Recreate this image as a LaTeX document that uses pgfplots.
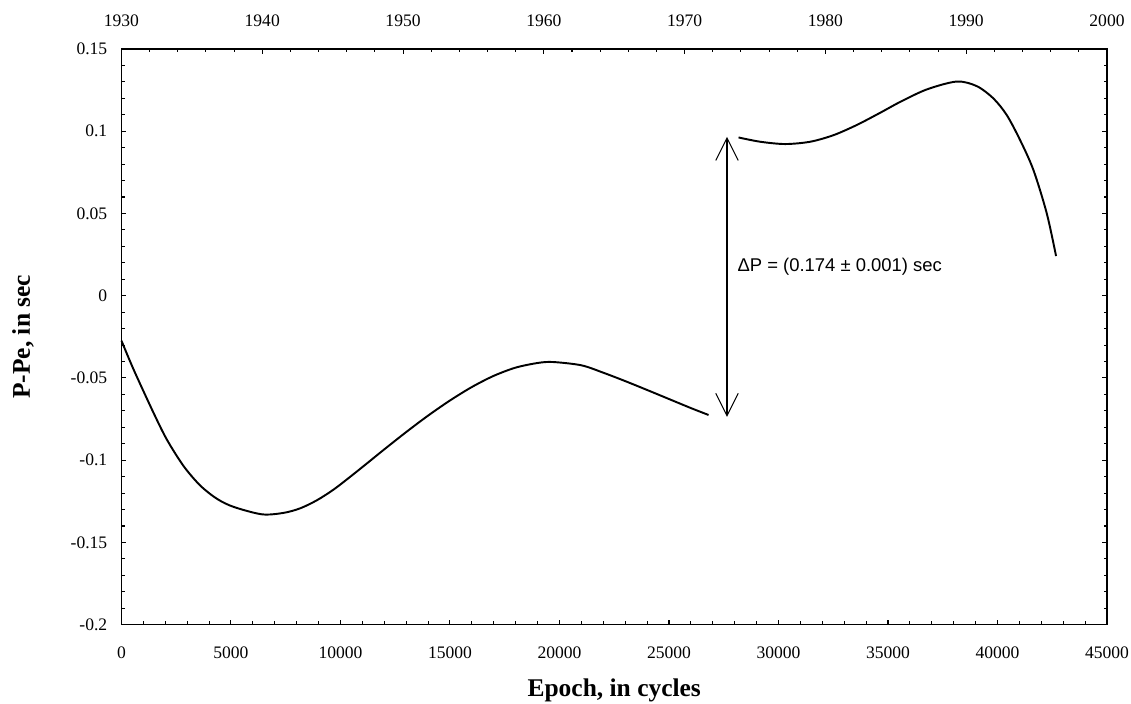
\documentclass[border=0pt]{standalone}
\usepackage{fontspec}
\setmainfont{Liberation Serif}
\newfontfamily\arial{Liberation Sans}
\usepackage{pgfplots}
\pgfplotsset{compat=1.18}
\usetikzlibrary{arrows.meta,calc}

\pgfplotsset{
  common/.style={
    width=19.72cm, height=11.52cm, scale only axis,
    xmin=0, xmax=45000, ymin=-0.2, ymax=0.15,
    tick align=inside,
    major tick length=0.1cm, minor tick length=0.065cm,
    every tick/.style={black, line width=0.6pt},
    axis line style={line width=0.75pt},
    tick label style={font=\fontsize{10}{12}\selectfont},
    /pgf/number format/assume math mode=true,
  },
}

\begin{document}
\begin{tikzpicture}
\begin{axis}[common, name=ax,
  xtick distance=5000, minor x tick num=4,
  ytick distance=0.05, minor y tick num=4,
  xtick pos=bottom, ytick pos=both,
  scaled x ticks=false, scaled y ticks=false,
  xticklabel style={anchor=base, yshift=-0.68cm},
  yticklabel style={anchor=east, xshift=-0.16cm,
    /pgf/number format/.cd, fixed, precision=2},
  xticklabel={\pgfmathprintnumber[fixed,1000 sep={}]{\tick}},
  xlabel={\textbf{Epoch, in cycles}},
  ylabel={\textbf{P-Pe, in sec}},
  label style={font=\fontsize{14.5}{17}\selectfont},
  xlabel style={at={(axis description cs:0.5,0)}, anchor=base, yshift=-1.44cm},
  ylabel style={at={(axis description cs:0,0.5)}, anchor=center, yshift=1.97cm},
  clip=false]
% cycle count before the jump
\addplot[black, line width=1.1pt, smooth, tension=0.5] coordinates {
  (0,-0.0273) (563,-0.0451) (1476,-0.0715) (2084,-0.0877) (2845,-0.1037)
  (3606,-0.1155) (4366,-0.1235) (5127,-0.1284) (6420,-0.1329) (7409,-0.1320)
  (8170,-0.1292) (8930,-0.1243) (9691,-0.1178) (10452,-0.1100) (11213,-0.1019)
  (11973,-0.0937) (13000,-0.0829) (14000,-0.0729) (15000,-0.0637)
  (16000,-0.0555) (17000,-0.0487) (18000,-0.0437) (19000,-0.0409)
  (19700,-0.0403) (21000,-0.0423) (22000,-0.0468) (23000,-0.0519)
  (24000,-0.0573) (25000,-0.0628) (26000,-0.0683) (26807,-0.0725)};
% after the jump
\addplot[black, line width=1.1pt, smooth, tension=0.5] coordinates {
  (28176,0.0962) (29165,0.0936) (30306,0.0922) (31447,0.0936) (32512,0.0976)
  (33577,0.1038) (34642,0.1112) (35555,0.1178) (36772,0.1254) (38141,0.1302)
  (39054,0.1274) (39814,0.1199) (40423,0.1098) (41032,0.0946) (41640,0.0764)
  (42248,0.0501) (42674,0.0241)};
\draw[line width=0.6pt, {Straight Barb[length=0.45cm,width=0.45cm]}-{Straight Barb[length=0.45cm,width=0.45cm]}]
  (axis cs:27650,-0.0737) -- (axis cs:27650,0.0966);
\node[anchor=west, inner sep=0pt, font=\arial\fontsize{10.5}{12}\selectfont]
  at (axis cs:28114,0.0174) {ΔP = (0.174 ± 0.001) sec};
\end{axis}
\begin{axis}[common,
  xmin=1930, xmax=2000,
  axis x line*=top, hide y axis,
  xtick distance=10, minor x tick num=4,
  xticklabel style={anchor=base, yshift=0.44cm},
  xticklabel={\pgfmathprintnumber[fixed,1000 sep={}]{\tick}}]
\addplot[draw=none] coordinates {(1930,0) (2000,0)};
\end{axis}
\pgfresetboundingbox
\path[use as bounding box] ($(ax.south west)+(-2.43cm,-1.58cm)$) rectangle ($(ax.north east)+(0.48cm,0.98cm)$);
\end{tikzpicture}
\end{document}
